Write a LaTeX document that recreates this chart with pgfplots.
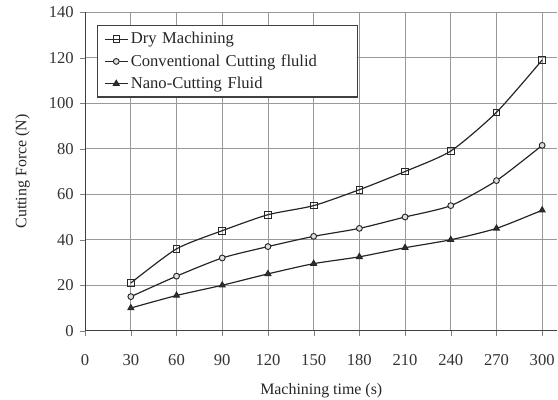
\documentclass[border=0pt]{standalone}
\usepackage{fontspec}
\setmainfont{Liberation Serif}
\usepackage{pgfplots}
\pgfplotsset{compat=1.18}
\begin{document}
\begin{tikzpicture}[x=1bp,y=1bp]
\begin{axis}[
  at={(0,0)}, anchor=south west,
  scale only axis,
  width=354.75bp, height=239.25bp,
  xmin=0, xmax=310, ymin=0, ymax=140,
  xtick={0,30,...,300}, ytick={0,20,...,140},
  axis x line*=bottom, axis y line*=left,
  grid=major,
  grid style={black!40, line width=0.6pt},
  axis line style={black!75, line width=0.9pt},
  tick align=outside, major tick length=4bp,
  /pgf/number format/assume math mode=true,
  ticklabel style={font=\fontsize{12.5}{14}\selectfont, text=black!80},
  xticklabel style={yshift=-10bp, inner xsep=1bp},
  yticklabel style={xshift=-1bp},
  xlabel={Machining time (s)},
  ylabel={Cutting Force (N)},
  label style={font=\fontsize{12}{14}\selectfont, text=black!85},
  xlabel style={at={(axis description cs:0.5,0)}, anchor=center, yshift=-45bp, inner ysep=1.5bp},
  ylabel style={at={(axis description cs:-0.1325,0.5)}, anchor=center, inner ysep=11.5bp, inner xsep=86bp},
  legend style={at={(9bp,229.5bp)}, anchor=north west, draw=black!75, line width=0.9pt,
    font=\fontsize{12.5}{14}\selectfont, text=black!85, inner xsep=5bp, inner ysep=3bp,
    row sep=2.5bp, text width=163bp},
  legend cell align=left,
]
\addplot[black!85, line width=0.9pt, smooth, tension=0.4, mark=square, mark size=2.5pt, mark options={black!85, fill=gray!25, line width=0.7pt, solid}] coordinates {
(30,21) (60,36) (90,44) (120,51) (150,55) (180,62) (210,70) (240,79) (270,96) (300,119)};
\addlegendentry{Dry Machining}
\addplot[black!85, line width=0.9pt, smooth, tension=0.4, mark=*, mark size=2.2pt, mark options={black!85, fill=gray!25, line width=0.7pt, solid}] coordinates {
(30,15) (60,24) (90,32) (120,37) (150,41.5) (180,45) (210,50) (240,55) (270,66) (300,81.5)};
\addlegendentry{Conventional Cutting flulid}
\addplot[black!85, line width=0.9pt, smooth, tension=0.4, mark=triangle*, mark size=2.4pt, mark options={black!85, fill=black!80, solid}] coordinates {
(30,10) (60,15.5) (90,20) (120,25) (150,29.5) (180,32.5) (210,36.5) (240,40) (270,45) (300,53)};
\addlegendentry{Nano-Cutting Fluid}
\end{axis}
\end{tikzpicture}
\end{document}
